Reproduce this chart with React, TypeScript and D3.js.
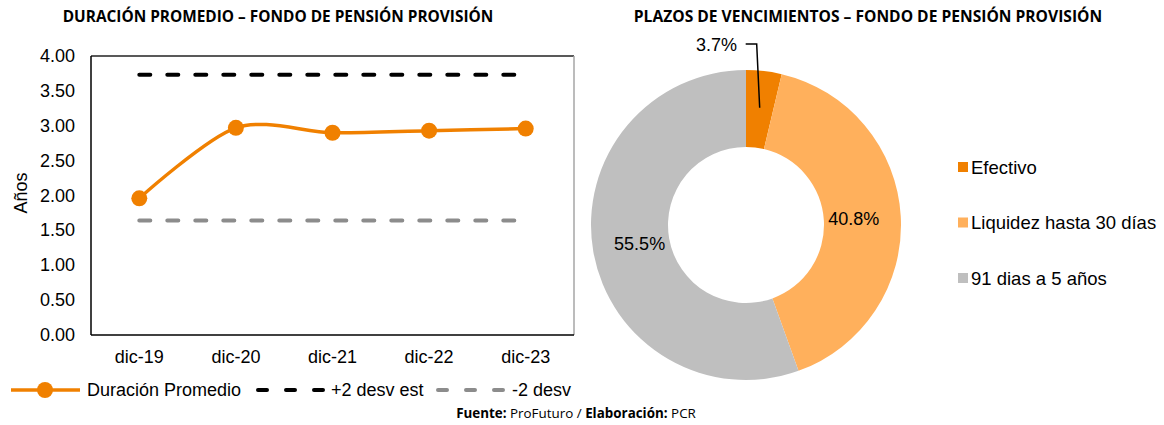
import React from "react";
import * as d3 from "d3";

const categories = ["dic-19", "dic-20", "dic-21", "dic-22", "dic-23"];
const duracion = [1.96, 2.97, 2.9, 2.93, 2.96];
const plus2 = [3.73, 3.73, 3.73, 3.73, 3.73];
const minus2 = [1.64, 1.64, 1.64, 1.64, 1.64];
const yTicks = [0, 0.5, 1, 1.5, 2, 2.5, 3, 3.5, 4];

const pieLabels = ["Efectivo", "Liquidez hasta 30 días", "91 dias a 5 años"];
const pieValues = [3.7, 40.8, 55.5];

const ORANGE = "#F08000";
const LIGHT = "#FFB05C";
const GRAY = "#BFBFBF";
const DGRAY = "#8C8C8C";
const pieColors = [ORANGE, LIGHT, GRAY];

const FONT = "'Liberation Sans', Arial, sans-serif";
const TFONT = "'Open Sans', 'Liberation Sans', sans-serif";
const FS = 18;

export default function App() {
  const x = d3.scaleBand<string>().domain(categories).range([91, 574]).padding(0);
  const y = d3.scaleLinear().domain([0, 4]).range([335, 56]);
  const cx = (c: string) => (x(c) as number) + x.bandwidth() / 2;

  const line = d3
    .line<number>()
    .x((_, i) => cx(categories[i]))
    .y((d) => y(d))
    .curve(d3.curveCardinal.tension(0.1));
  const straight = d3
    .line<number>()
    .x((_, i) => cx(categories[i]))
    .y((d) => y(d));

  const pcx = 746, pcy = 225, rOut = 155, rIn = 78;
  const pie = d3.pie<number>().sort(null).value((d) => d)(pieValues);
  const arc = d3.arc<d3.PieArcDatum<number>>().innerRadius(rIn).outerRadius(rOut);
  const labelArc = d3.arc<d3.PieArcDatum<number>>().innerRadius(108).outerRadius(108);
  const leaderArc = d3.arc<d3.PieArcDatum<number>>().innerRadius(118).outerRadius(118);

  const fmt = (v: number) => v.toFixed(1) + "%";
  const leadEnd = leaderArc.centroid(pie[0]);

  return (
    <svg width={1164} height={425} style={{ position: "absolute", left: 0, top: 0, background: "#fff" }}>
      {/* Titles */}
      <text x={278} y={16} textAnchor="middle" dominantBaseline="central" fontFamily={TFONT} fontWeight="bold" fontSize={15.4} fill="#000">
        DURACIÓN PROMEDIO – FONDO DE PENSIÓN PROVISIÓN
      </text>
      <text x={868} y={16} textAnchor="middle" dominantBaseline="central" fontFamily={TFONT} fontWeight="bold" fontSize={15.6} fill="#000">
        PLAZOS DE VENCIMIENTOS – FONDO DE PENSIÓN PROVISIÓN
      </text>

      {/* Plot frame */}
      <line x1={91} x2={574} y1={56} y2={56} stroke="#222" strokeWidth={1.5} />
      <line x1={574} x2={574} y1={56} y2={335} stroke="#A6A6A6" strokeWidth={1.5} />
      <line x1={91} x2={91} y1={56} y2={335} stroke="#000" strokeWidth={1.5} />
      <line x1={91} x2={574} y1={335} y2={335} stroke="#000" strokeWidth={1.5} />

      {/* Y ticks */}
      {yTicks.map((t) => (
        <text key={t} x={75} y={y(t)} textAnchor="end" dominantBaseline="central" fontFamily={FONT} fontSize={FS} fill="#000">
          {t.toFixed(2)}
        </text>
      ))}
      <text transform="translate(21,193) rotate(-90)" textAnchor="middle" dominantBaseline="central" fontFamily={FONT} fontSize={FS} fill="#000">
        Años
      </text>
      {categories.map((c) => (
        <text key={c} x={cx(c)} y={357} textAnchor="middle" dominantBaseline="central" fontFamily={FONT} fontSize={FS} fill="#000">
          {c}
        </text>
      ))}

      {/* Dashed lines */}
      <path d={straight(plus2) || ""} fill="none" stroke="#000" strokeWidth={4} strokeDasharray="11,17" strokeLinecap="round" />
      <path d={straight(minus2) || ""} fill="none" stroke={DGRAY} strokeWidth={4} strokeDasharray="11,17" strokeLinecap="round" />

      {/* Main line */}
      <path d={line(duracion) || ""} fill="none" stroke={ORANGE} strokeWidth={3.5} strokeLinejoin="round" />
      {duracion.map((d, i) => (
        <circle key={i} cx={cx(categories[i])} cy={y(d)} r={8} fill={ORANGE} />
      ))}

      {/* Line legend */}
      <line x1={11} x2={80} y1={390} y2={390} stroke={ORANGE} strokeWidth={3.5} />
      <circle cx={45} cy={390} r={8} fill={ORANGE} />
      <text x={87} y={390} dominantBaseline="central" fontFamily={FONT} fontSize={FS} fill="#000">Duración Promedio</text>
      <line x1={258} x2={326} y1={390} y2={390} stroke="#000" strokeWidth={4} strokeDasharray="9,19" strokeLinecap="round" />
      <text x={331} y={390} dominantBaseline="central" fontFamily={FONT} fontSize={FS} fill="#000">+2 desv est</text>
      <line x1={438} x2={507} y1={390} y2={390} stroke={DGRAY} strokeWidth={4} strokeDasharray="9,19" strokeLinecap="round" />
      <text x={512} y={390} dominantBaseline="central" fontFamily={FONT} fontSize={FS} fill="#000">-2 desv</text>

      {/* Donut */}
      <g transform={`translate(${pcx},${pcy})`}>
        {pie.map((p, i) => (
          <path key={i} d={arc(p) || ""} fill={pieColors[i]} />
        ))}
        {pie.slice(1).map((p, i) => {
          const [lx, ly] = labelArc.centroid(p);
          return (
            <text key={i} x={lx} y={ly} textAnchor="middle" dominantBaseline="central" fontFamily={FONT} fontSize={FS} fill="#000">
              {fmt(p.data)}
            </text>
          );
        })}
        <polyline
          points={`${leadEnd[0]},${leadEnd[1]} ${leadEnd[0] - 3},${-181} ${leadEnd[0] - 14},${-181}`}
          fill="none"
          stroke="#000"
          strokeWidth={1.5}
        />
        <text x={-9} y={-180} textAnchor="end" dominantBaseline="central" fontFamily={FONT} fontSize={FS} fill="#000">
          {fmt(pie[0].data)}
        </text>
      </g>

      {/* Pie legend */}
      {pieLabels.map((l, i) => (
        <g key={l} transform={`translate(958,${167 + i * 55.5})`}>
          <rect x={0} y={-5} width={10} height={10} fill={pieColors[i]} />
          <text x={13} y={0} dominantBaseline="central" fontFamily={FONT} fontSize={18.5} fill="#000">{l}</text>
        </g>
      ))}

      {/* Footer */}
      <text x={576} y={413} textAnchor="middle" dominantBaseline="central" fontFamily={TFONT} fontSize={13.4} fill="#000">
        <tspan fontWeight="bold">Fuente:</tspan> ProFuturo / <tspan fontWeight="bold">Elaboración:</tspan> PCR
      </text>
    </svg>
  );
}
